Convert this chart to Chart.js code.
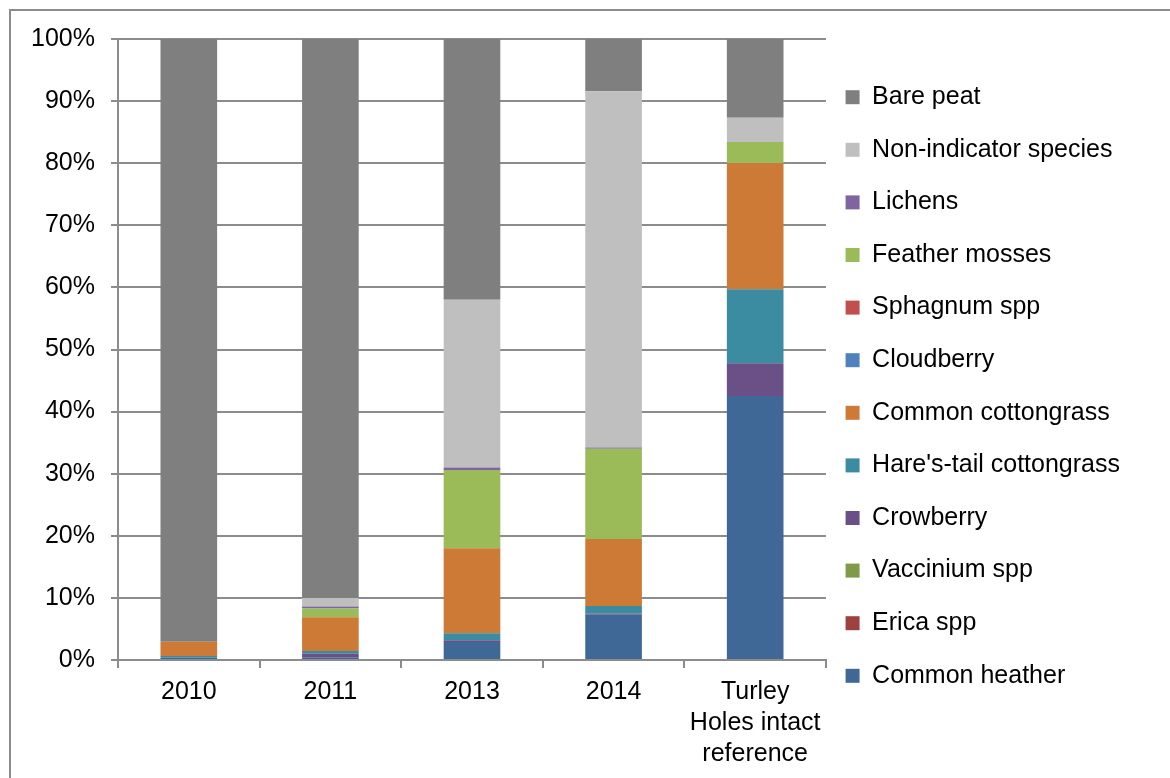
<!DOCTYPE html>
<html>
<head>
<meta charset="utf-8">
<script src="https://cdn.jsdelivr.net/npm/chart.js@4/dist/chart.umd.min.js"></script>
<style>
  body { margin: 0; background: #fff; }
  #wrap { position: relative; width: 1170px; height: 778px; overflow: hidden; }
  #frame { position: absolute; left: 9px; top: 9px; width: 1300px; height: 900px;
           border-top: 2px solid #8c8c8c; border-left: 2px solid #8c8c8c; pointer-events: none; }
</style>
</head>
<body>
<div id="wrap">
  <canvas id="mycanvas" width="1170" height="778"></canvas>
  <div id="frame"></div>
</div>
<script>
// survey sites / years
var categories = ['2010', '2011', '2013', '2014', ['Turley', 'Holes intact', 'reference']];

// percentage cover, bottom of the stack first
var commonHeather     = [0.35, 0.35, 2.9, 7.3, 42.5];
var ericaSpp          = [0, 0, 0, 0, 0];
var vacciniumSpp      = [0, 0, 0, 0, 0];
var crowberry         = [0, 0.65, 0.3, 0.2, 5.3];
var haresTail         = [0.3, 0.45, 1.1, 1.2, 11.9];
var commonCottongrass = [2.3, 5.45, 13.7, 10.8, 20.3];
var cloudberry        = [0, 0, 0, 0, 0];
var sphagnumSpp       = [0, 0, 0, 0, 0];
var featherMosses     = [0, 1.4, 12.6, 14.5, 3.4];
var lichens           = [0, 0.3, 0.4, 0.2, 0];
var nonIndicator      = [0, 1.4, 27.0, 57.4, 3.9];
var barePeat          = [97.05, 90.0, 42.0, 8.4, 12.7];

var yTicks = [0, 10, 20, 30, 40, 50, 60, 70, 80, 90, 100];

var FONT = '"Liberation Sans", Arial, sans-serif';
var GRID = '#8c8c8c';

function ds(label, data, color) {
    return {
        label: label,
        data: data,
        backgroundColor: color,
        borderWidth: 0,
        barPercentage: 0.4,
        categoryPercentage: 1.0
    };
}

var chartdata = {
    labels: categories,
    datasets: [
        ds('Common heather', commonHeather, '#3f6897'),
        ds('Erica spp', ericaSpp, '#9e413e'),
        ds('Vaccinium spp', vacciniumSpp, '#7f9a48'),
        ds('Crowberry', crowberry, '#6a5086'),
        ds("Hare's-tail cottongrass", haresTail, '#3b8ba1'),
        ds('Common cottongrass', commonCottongrass, '#cd7a37'),
        ds('Cloudberry', cloudberry, '#4f81bd'),
        ds('Sphagnum spp', sphagnumSpp, '#c0504d'),
        ds('Feather mosses', featherMosses, '#9bbb59'),
        ds('Lichens', lichens, '#8064a2'),
        ds('Non-indicator species', nonIndicator, '#bfbfbf'),
        ds('Bare peat', barePeat, '#7f7f7f')
    ]
};

// nudge the legend column up and left, it's centred on the whole canvas otherwise
var legendShift = {
    id: 'legendShift',
    afterLayout: function (chart) {
        var lg = chart.legend;
        lg.top -= 22;
        lg.bottom -= 22;
        lg.left -= 8;
        lg.right -= 8;
    }
};

var ctx = document.getElementById('mycanvas');
var barGraph = new Chart(ctx, {
    type: 'bar',
    data: chartdata,
    plugins: [legendShift],
    options: {
        responsive: false,
        animation: false,
        layout: { padding: { top: 39, right: 32, bottom: 0, left: 0 } },
        plugins: {
            tooltip: { enabled: false },
            legend: {
                position: 'right',
                reverse: true,
                maxWidth: 340,
                labels: {
                    boxWidth: 14,
                    boxHeight: 14,
                    padding: 27.6,
                    color: '#000',
                    font: { family: FONT, size: 25 }
                }
            }
        },
        scales: {
            x: {
                stacked: true,
                afterFit: function (scale) { scale.height = 118; },
                grid: {
                    display: true,
                    drawOnChartArea: false,
                    offset: true,
                    tickLength: 8,
                    color: GRID,
                    lineWidth: 2
                },
                border: { display: true, color: GRID, width: 2 },
                ticks: {
                    color: '#000',
                    padding: 8,
                    maxRotation: 0,
                    autoSkip: false,
                    font: { family: FONT, size: 25, lineHeight: 1.25 }
                }
            },
            y: {
                stacked: true,
                min: 0,
                max: 100,
                afterFit: function (scale) { scale.width = 118; },
                afterBuildTicks: function (scale) {
                    scale.ticks = yTicks.map(function (v) { return { value: v }; });
                },
                grid: {
                    color: GRID,
                    lineWidth: 2,
                    tickLength: 7
                },
                border: { display: true, color: GRID, width: 2 },
                ticks: {
                    color: '#000',
                    padding: 16,
                    font: { family: FONT, size: 25 },
                    callback: function (v) { return v + '%'; }
                }
            }
        }
    }
});
</script>
</body>
</html>
